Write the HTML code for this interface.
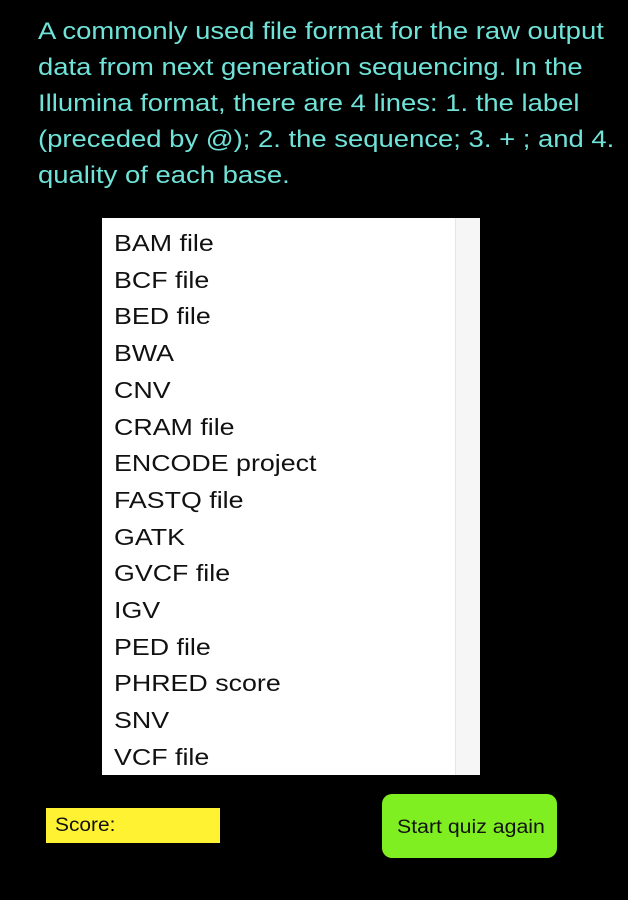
<!DOCTYPE html>
<html><head><style>
body{margin:0;width:628px;height:900px;background:#000;overflow:hidden;font-family:"Liberation Sans",sans-serif;position:relative}
.t{position:absolute;left:38px;top:14px;width:585px;color:#6fe3d8;font-size:24.5px;line-height:36px;white-space:nowrap;transform:scaleX(1.12);transform-origin:0 0}
.box{position:absolute;left:102px;top:218px;width:378px;height:557px;background:#fff}
.sb{position:absolute;right:0;top:0;width:24px;height:100%;background:#f6f6f6;border-left:1px solid #e6e6e6}
.it{position:absolute;left:12px;font-size:23.5px;color:#111;white-space:nowrap;transform:scaleX(1.14);transform-origin:0 0}
.score{position:absolute;left:46px;top:808px;width:174px;height:35px;background:#fff233;color:#111}
.score span{position:absolute;left:9px;top:0;font-size:19px;line-height:35px;transform:scaleX(1.1);transform-origin:0 0}
.btn{position:absolute;left:382px;top:794px;width:175px;height:64px;background:#80ef22;border-radius:10px;color:#111}
.btn span{position:absolute;left:15px;top:2px;font-size:19px;line-height:64px;transform:scaleX(1.12);transform-origin:0 0;white-space:nowrap}
</style></head><body>
<div class="t">A commonly used file format for the raw output<br>data from next generation sequencing. In the<br>Illumina format, there are 4 lines: 1. the label<br>(preceded by @); 2. the sequence; 3. + ; and 4.<br>quality of each base.</div>
<div class="box"><div class="sb"></div>
<div class="it" style="top:12px">BAM file</div>
<div class="it" style="top:48.7px">BCF file</div>
<div class="it" style="top:85.4px">BED file</div>
<div class="it" style="top:122.1px">BWA</div>
<div class="it" style="top:158.8px">CNV</div>
<div class="it" style="top:195.5px">CRAM file</div>
<div class="it" style="top:232.2px">ENCODE project</div>
<div class="it" style="top:268.9px">FASTQ file</div>
<div class="it" style="top:305.6px">GATK</div>
<div class="it" style="top:342.3px">GVCF file</div>
<div class="it" style="top:379px">IGV</div>
<div class="it" style="top:415.7px">PED file</div>
<div class="it" style="top:452.4px">PHRED score</div>
<div class="it" style="top:489.1px">SNV</div>
<div class="it" style="top:525.8px">VCF file</div>
</div>
<div class="score"><span>Score:</span></div>
<div class="btn"><span>Start quiz again</span></div>
</body></html>
